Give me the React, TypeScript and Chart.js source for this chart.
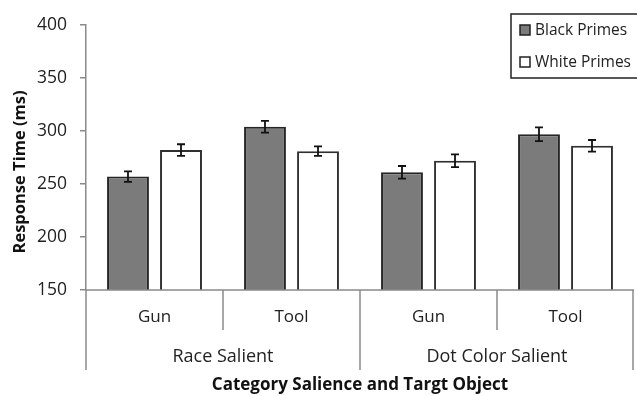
import { useEffect, useRef } from "react";
import { Chart, registerables } from "chart.js";

Chart.register(...registerables);

const categories = ["Gun", "Tool", "Gun", "Tool"];
const groups = ["Race Salient", "Dot Color Salient"];
const groupSpans = [2, 2];
const seriesNames = ["Black Primes", "White Primes"];
const blackPrimes = [257, 304, 261, 297];
const whitePrimes = [282, 281, 272, 286];
const blackErr = [5, 5.5, 6, 6.5];
const whiteErr = [5.5, 4.5, 6, 5.5];
const yMin = 150;
const yMax = 400;
const yStep = 50;
const xTitle = "Category Salience and Targt Object";
const yTitle = "Response Time (ms)";

const FONT = "'Open Sans', 'Noto Sans', sans-serif";
const AXIS_GRAY = "#8a8a8a";
const TEXT = "#222222";

const errors = [blackErr, whiteErr];

const errorBarPlugin = {
  id: "errorBars",
  afterDatasetsDraw(chart: any) {
    const ctx = chart.ctx;
    const y = chart.scales.y;
    ctx.save();
    ctx.strokeStyle = "#111111";
    ctx.lineWidth = 1.8;
    chart.data.datasets.forEach((ds: any, di: number) => {
      const meta = chart.getDatasetMeta(di);
      meta.data.forEach((el: any, i: number) => {
        const v = ds.data[i];
        const e = errors[di][i];
        const top = y.getPixelForValue(v + e);
        const bot = y.getPixelForValue(v - e);
        const cx = el.x;
        ctx.beginPath();
        ctx.moveTo(cx, top);
        ctx.lineTo(cx, bot);
        ctx.moveTo(cx - 4, top);
        ctx.lineTo(cx + 4, top);
        ctx.moveTo(cx - 4, bot);
        ctx.lineTo(cx + 4, bot);
        ctx.stroke();
      });
    });
    ctx.restore();
  },
};

const decorPlugin = {
  id: "decor",
  afterDraw(chart: any) {
    const ctx = chart.ctx;
    const area = chart.chartArea;
    const x = chart.scales.x;
    ctx.save();
    // baseline
    ctx.strokeStyle = AXIS_GRAY;
    ctx.lineWidth = 1.5;
    ctx.beginPath();
    ctx.moveTo(area.left, area.bottom);
    ctx.lineTo(area.right, area.bottom);
    ctx.stroke();

    const n = categories.length;
    const step = x.getPixelForValue(1) - x.getPixelForValue(0);
    const edge = (i: number) => x.getPixelForValue(i) - step / 2;

    // category labels
    ctx.fillStyle = TEXT;
    ctx.font = `17px ${FONT}`;
    ctx.textAlign = "center";
    ctx.textBaseline = "middle";
    categories.forEach((c, i) => {
      ctx.fillText(c, x.getPixelForValue(i), area.bottom + 27);
    });

    // separators
    const groupEdges: number[] = [0];
    let acc = 0;
    groupSpans.forEach((s) => {
      acc += s;
      groupEdges.push(acc);
    });
    ctx.beginPath();
    for (let i = 0; i <= n; i++) {
      const xp = i === n ? area.right - 1 : edge(i);
      const len = groupEdges.includes(i) ? 80 : 40;
      ctx.moveTo(xp, area.bottom);
      ctx.lineTo(xp, area.bottom + len);
    }
    ctx.stroke();

    // group labels
    ctx.font = `18px ${FONT}`;
    groups.forEach((g, gi) => {
      const a = edge(groupEdges[gi]);
      const b = groupEdges[gi + 1] === n ? area.right : edge(groupEdges[gi + 1]);
      ctx.fillText(g, (a + b) / 2, area.bottom + 67);
    });

    // x title
    ctx.font = `bold 17px ${FONT}`;
    ctx.fillStyle = "#111111";
    ctx.fillText(xTitle, (area.left + area.right) / 2, area.bottom + 95);

    // y title
    ctx.save();
    ctx.translate(20, 172);
    ctx.rotate(-Math.PI / 2);
    ctx.font = `bold 16.5px ${FONT}`;
    ctx.fillText(yTitle, 0, 0);
    ctx.restore();

    // legend
    ctx.strokeStyle = "#222222";
    ctx.lineWidth = 1.5;
    ctx.strokeRect(511, 14, 140, 64);
    ctx.font = `15.5px ${FONT}`;
    ctx.textAlign = "left";
    const rows = [30, 62];
    const fills = ["#7b7b7b", "#ffffff"];
    seriesNames.forEach((s, i) => {
      ctx.fillStyle = fills[i];
      ctx.fillRect(520, rows[i] - 5, 10, 10);
      ctx.strokeStyle = "#222222";
      ctx.lineWidth = 1.5;
      ctx.strokeRect(520, rows[i] - 5, 10, 10);
      ctx.fillStyle = TEXT;
      ctx.fillText(s, 535, rows[i] + 1);
    });
    ctx.restore();
  },
};

export default function App() {
  const ref = useRef<HTMLCanvasElement>(null);
  useEffect(() => {
    if (!ref.current) return;
    const chart = new Chart(ref.current, {
      type: "bar",
      data: {
        labels: categories,
        datasets: [
          {
            label: seriesNames[0],
            data: blackPrimes,
            backgroundColor: "#7b7b7b",
            borderColor: "#262626",
            borderWidth: 2,
            categoryPercentage: 0.774,
            barPercentage: 0.79,
          },
          {
            label: seriesNames[1],
            data: whitePrimes,
            backgroundColor: "#ffffff",
            borderColor: "#303030",
            borderWidth: 2,
            categoryPercentage: 0.774,
            barPercentage: 0.79,
          },
        ],
      },
      options: {
        responsive: false,
        animation: false,
        devicePixelRatio: 1,
        layout: { padding: { left: 0, top: 25, right: 3, bottom: 106 } },
        plugins: {
          legend: { display: false },
          tooltip: { enabled: false },
        },
        scales: {
          x: { display: false },
          y: {
            min: yMin,
            max: yMax,
            afterFit: (scale: any) => {
              scale.width = 86;
            },
            ticks: {
              stepSize: yStep,
              padding: 13,
              color: TEXT,
              font: { family: FONT, size: 17.5 },
            },
            grid: {
              drawOnChartArea: false,
              drawTicks: true,
              tickLength: 6,
              color: AXIS_GRAY,
              lineWidth: 1.5,
            },
            border: { display: true, color: AXIS_GRAY, width: 1.5 },
          },
        },
      },
      plugins: [errorBarPlugin, decorPlugin],
    });
    return () => chart.destroy();
  }, []);
  return (
    <canvas
      ref={ref}
      width={637}
      height={396}
      style={{ position: "absolute", left: 0, top: 0, width: 637, height: 396 }}
    />
  );
}
